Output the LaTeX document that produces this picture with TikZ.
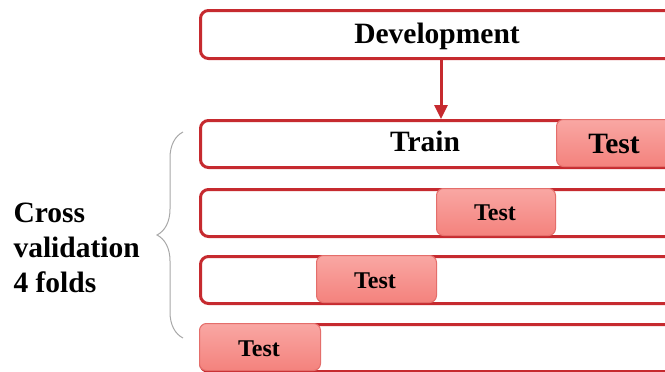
\documentclass[tikz,border=0pt]{standalone}
\usepackage{fontspec}
\setmainfont{Liberation Serif}
\usetikzlibrary{arrows.meta,decorations.pathreplacing}
\definecolor{frame}{HTML}{C62A2F}
\definecolor{testtop}{HTML}{F9A7A3}
\definecolor{testbot}{HTML}{F4827D}
\definecolor{testline}{HTML}{E46E6B}
\definecolor{bracegray}{HTML}{A8A8A8}
\tikzset{
  row/.style={draw=frame, line width=3pt, rounded corners=8pt, fill=white,
    anchor=north west, minimum height=47pt, minimum width=481pt, inner sep=0pt},
  testbox/.style={draw=testline, line width=1pt, rounded corners=7pt,
    top color=testtop, bottom color=testbot, anchor=north west,
    minimum height=47pt, inner sep=0pt},
  smalltext/.style={font=\bfseries\fontsize{24}{28}\selectfont},
  bigtext/.style={font=\bfseries\fontsize{29.5}{35}\selectfont},
}
\begin{document}
\begin{tikzpicture}[x=1pt,y=-1pt]
\useasboundingbox (0,0) rectangle (665,372);
\clip (0,0) rectangle (665,372);
% development stage
\node[row, minimum height=48pt] (dev) at (199,9) {};
\node[bigtext] (devtxt) at (437,36) {Development};
% the four folds
\node[row] (r1) at (199,119) {};
\node[row] (r2) at (199,188) {};
\node[row] (r3) at (199,255) {};
\node[row] (r4) at (199,323) {};
% held-out parts
\node[testbox, minimum width=124pt] (t1) at (556,119) {};
\node[testbox, minimum width=119pt] (t2) at (436,188) {};
\node[testbox, minimum width=120pt] (t3) at (316,255) {};
\node[testbox, minimum width=121pt] (t4) at (199,323) {};
\node[bigtext] (l1) at (614,144) {Test};
\node[smalltext] (l2) at (495,213) {Test};
\node[smalltext] (l3) at (375,281) {Test};
\node[smalltext] (l4) at (259,349) {Test};
\node[bigtext] (train) at (425,141) {Train};
% arrow from development to the first fold
\draw[frame, line width=3pt, -{Triangle[length=14pt,width=13pt]}] (dev.south) -- (r1.north);
% brace grouping the folds
\coordinate (bb) at (183,338);
\coordinate (bt) at (183,132);
\draw[bracegray, line width=1pt, decorate, decoration={brace, amplitude=26pt}] (bb) -- (bt);
\node[align=left, anchor=west, font=\bfseries\fontsize{29.5}{35}\selectfont] (cv) at (10,248) {Cross\\validation\\4 folds};
\end{tikzpicture}
\end{document}
